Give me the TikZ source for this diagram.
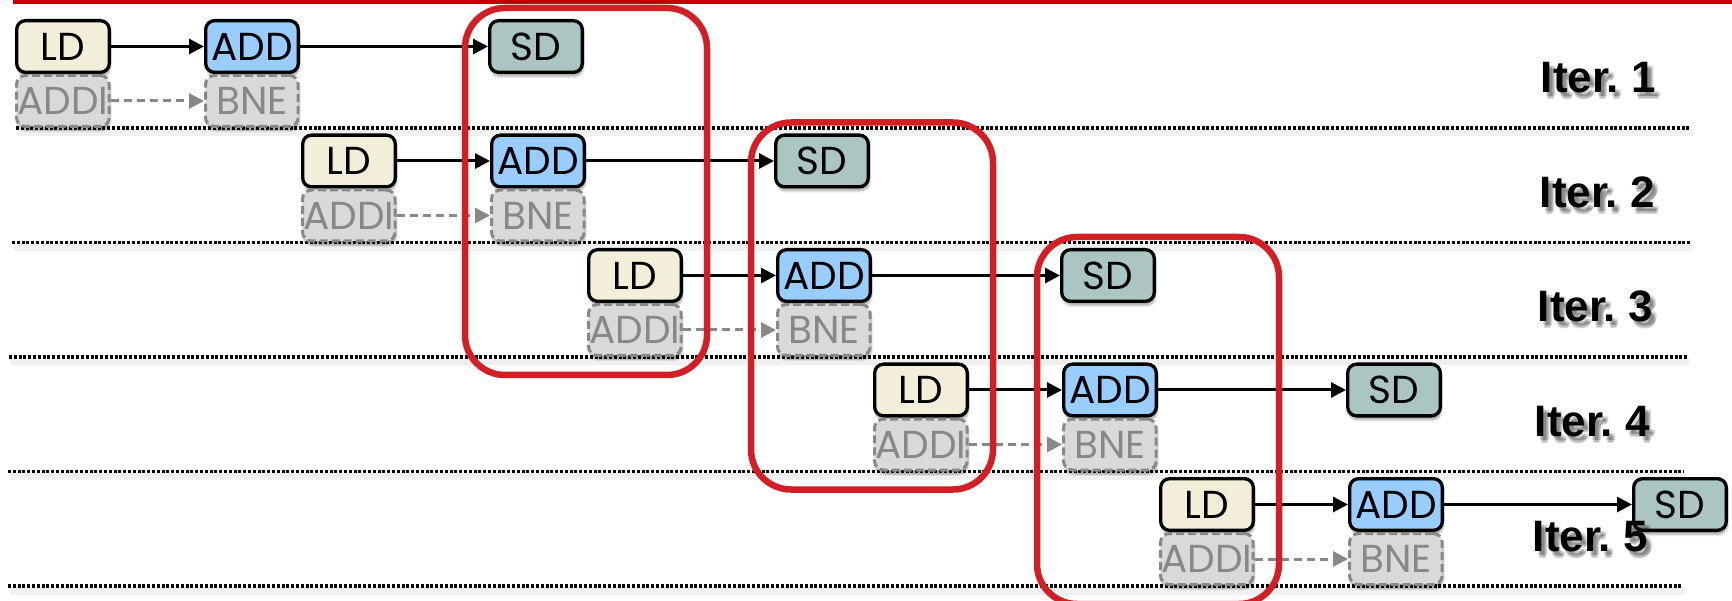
\documentclass[tikz,border=0pt]{standalone}
\usepackage{fontspec}
\setmainfont{Poppins}
\newfontfamily\iterfont{Liberation Sans}
\usetikzlibrary{arrows.meta,shadows.blur}

\definecolor{ldfill}{HTML}{F2EED9}
\definecolor{addfill}{HTML}{99CCFF}
\definecolor{sdfill}{HTML}{ABC6C2}
\definecolor{ghostfill}{HTML}{D9D9D9}
\definecolor{ghostline}{HTML}{888888}
\definecolor{loopred}{HTML}{D21F25}
\definecolor{barred}{HTML}{C00000}

\tikzset{
  opbox/.style={rounded corners=9pt, minimum width=92.7pt, minimum height=51.7pt,
    inner sep=0pt, line width=3.3pt, anchor=north west,
    font=\fontsize{39}{39}\selectfont,
    blur shadow={shadow xshift=1pt, shadow yshift=-4pt, shadow opacity=35, shadow blur steps=6}},
  ldbox/.style={opbox, draw=black, fill=ldfill},
  addbox/.style={opbox, draw=black, fill=addfill},
  sdbox/.style={opbox, draw=black, fill=sdfill},
  ghostbox/.style={opbox, minimum height=51pt, draw=ghostline, fill=ghostfill, text=ghostline,
    line width=3pt, dash pattern=on 8pt off 4pt},
  flow/.style={line width=3pt, draw=black, -{Triangle[length=15pt,width=15pt]}},
  ghostflow/.style={line width=3pt, draw=ghostline, dash pattern=on 8pt off 5pt,
    -{Triangle[length=15pt,width=15pt]}},
  sepline/.style={line width=3.2pt, draw=black, dash pattern=on 3pt off 1.8pt},
  sepshade/.style={line width=7pt, draw=black, opacity=0.06},
  loopbox/.style={line width=6.5pt, draw=loopred, rounded corners=40pt},
  itertext/.style={font=\iterfont\bfseries\fontsize{44}{44}\selectfont, anchor=base east, inner sep=0pt},
  itershade/.style={itertext, text=black, opacity=0.14},
}

\begin{document}
\begin{tikzpicture}[x=1pt, y=-1pt]
\useasboundingbox (0,0) rectangle (1732,601);
\clip (0,0) rectangle (1732,601);

% top rule
\fill[barred] (13,0) rectangle (1732,4.5);

% separators between iterations
\foreach \i/\xa/\xb in {0/16/1691, 1/12/1690, 2/9/1687, 3/8/1684, 4/8/1683} {
  \pgfmathsetmacro{\yy}{128+114.5*\i}
  \draw[sepshade] (\xa+2,\yy+5) -- (\xb+2,\yy+5);
  \draw[sepline] (\xa,\yy) -- (\xb,\yy);
}

% one row of instructions per iteration
\foreach \i in {1,...,5} {
  \pgfmathsetmacro{\dx}{286*(\i-1)}
  \pgfmathsetmacro{\yy}{19+114.5*(\i-1)}
  \node[ldbox]  (ld\i)  at (15+\dx,\yy)  {LD};
  \node[addbox] (add\i) at (204+\dx,\yy) {ADD};
  \node[sdbox]  (sd\i)  at (488+\dx,\yy) {SD};
  \node[ghostbox] (addi\i) at (15+\dx,\yy+55) {ADDI};
  \node[ghostbox] (bne\i)  at (204+\dx,\yy+55) {BNE};
  \draw[flow] (ld\i.east) -- (add\i.west);
  \draw[flow] (add\i.east) -- (sd\i.west);
  \draw[ghostflow] (addi\i.east) -- (bne\i.west);
}

% software-pipelined loop bodies
\foreach \i in {0,1,2} {
  \pgfmathsetmacro{\dx}{286*\i}
  \pgfmathsetmacro{\yy}{114.5*\i}
  \draw[loopbox] (465+\dx,8+\yy) rectangle (707+\dx,375+\yy);
}

% iteration labels with soft shadows
\foreach \i/\xr in {1/1656, 2/1655, 3/1653, 4/1650, 5/1648} {
  \pgfmathsetmacro{\yy}{93+114.5*(\i-1)}
  \foreach \k/\sx/\sy in {1/3/4, 2/5/6, 3/6/4, 4/4/7} {
    \node[itershade, xshift=\sx pt, yshift=-\sy pt] (itsh\i-\k) at (\xr,\yy) {Iter.\ \i};
  }
  \node[itertext] (iter\i) at (\xr,\yy) {Iter.\ \i};
}
\end{tikzpicture}
\end{document}
